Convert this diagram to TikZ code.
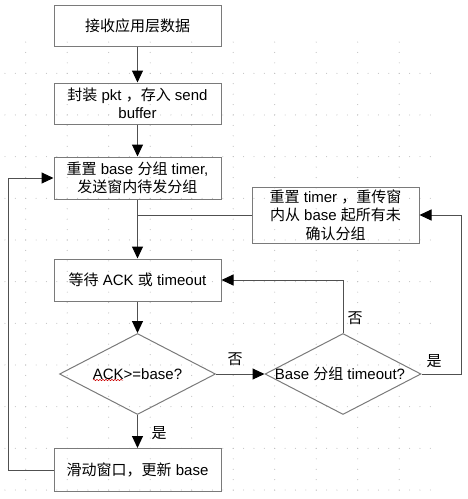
\documentclass[tikz,border=0pt]{standalone}
\usepackage{fontspec}
\setmainfont{Liberation Sans}
\newfontfamily\cjk{Noto Sans CJK SC}
\usetikzlibrary{arrows.meta,shapes.geometric,decorations.pathmorphing}
\definecolor{bord}{HTML}{7A7A7A}
\definecolor{wirec}{HTML}{505050}
\definecolor{dotc}{HTML}{BDBDBD}
\newcommand{\zh}[1]{{\cjk #1}}
\begin{document}
\begin{tikzpicture}[x=1pt,y=-1pt, font=\fontsize{15pt}{18.3pt}\selectfont,
  box/.style={draw=bord, line width=1pt, minimum width=167pt, inner sep=0pt, align=center, text=black},
  dia/.style={draw=bord, line width=1pt, diamond, minimum width=156pt, minimum height=81pt, inner sep=0pt},
  wire/.style={draw=wirec, line width=1pt},
  arr/.style={wire, -{Triangle[length=12pt,width=11pt,color=black]}},
  lab/.style={inner sep=0pt, text=black}]
\useasboundingbox (0,0) rectangle (467,499);
% background grid dots
\foreach \k in {0,...,10} \foreach \j in {0,...,41}
  \fill[dotc] ({4.95+10.375*\j},{73.3+41.67*\k}) circle[radius=0.55pt];
\foreach \i in {0,...,9} \foreach \m in {0,...,43}
  \fill[dotc] ({25.7+41.5*\i},{42.05+10.42*\m}) circle[radius=0.55pt];
% nodes
\node[box, minimum height=41pt] (b1) at (137.5,25.5) {\zh{接收应用层数据}};
\node[box, minimum height=41pt] (b2) at (137.5,103.5) {\zh{封装} pkt \zh{，存入} send\\buffer};
\node[box, minimum height=42pt] (b3) at (137.5,178) {\zh{重置} base \zh{分组} timer,\\\zh{发送窗内待发分组}};
\node[box, minimum height=56pt] (br) at (335.5,215) {\zh{重置} timer \zh{，重传窗}\\\zh{内从} base \zh{起所有未}\\\zh{确认分组}};
\node[box, minimum height=42pt] (b4) at (137.5,280) {\zh{等待} ACK \zh{或} timeout};
\node[dia] (d1) at (137.5,374) {};
\node[lab] (d1t) at (d1.center) {ACK>=base?};
\node[dia] (d2) at (343,374) {};
\node[lab] (d2t) at (340,374) {Base \zh{分组} timeout?};
\node[box, minimum height=43pt] (b5) at (137.5,470) {\zh{滑动窗口，更新} base};
% spell-check squiggle
\draw[red!80!black, line width=0.5pt, decorate, decoration={snake, amplitude=0.7pt, segment length=3pt}] (93,380) -- (123,380);
% connectors
\draw[arr] (b1) -- (b2);
\draw[arr] (b2) -- (b3);
\draw[arr] (b3) -- (b4);
\draw[wire] (br.west) -- (br.west -| b3.south);
\draw[arr] (b4) -- (d1);
\draw[arr] (d1.east) -- (d2.west);
\node[lab] (no1) at (235,359) {\zh{否}};
\draw[arr] (d1.south) -- (b5.north);
\node[lab] (yes1) at (159,433) {\zh{是}};
\draw[arr] (d2.north) |- (b4.east);
\node[lab] (no2) at (355,318) {\zh{否}};
\coordinate (cr) at (461,374);
\draw[arr] (d2.east) -- (cr) |- (br.east);
\node[lab] (yes2) at (434,361) {\zh{是}};
\coordinate (cl) at (8,470);
\draw[arr] (b5.west) -- (cl) |- (b3.west);
\end{tikzpicture}
\end{document}
